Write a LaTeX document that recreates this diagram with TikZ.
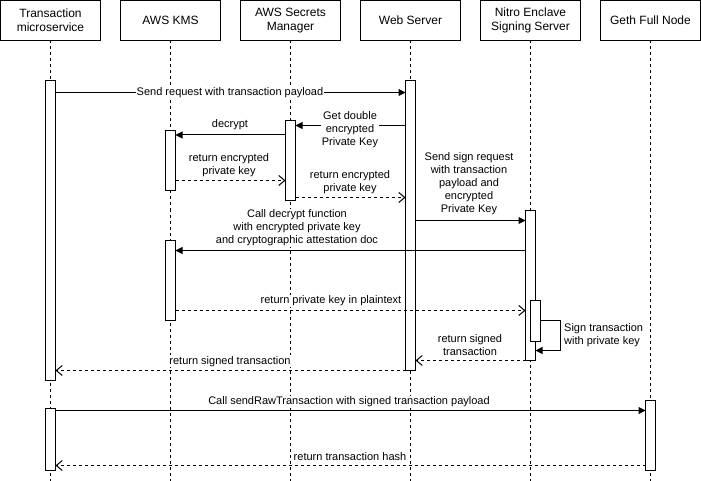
\documentclass[tikz,border=0pt]{standalone}
\usepackage{fontspec}
\setmainfont{Liberation Sans}
\usetikzlibrary{arrows.meta}
\begin{document}
\begin{tikzpicture}[x=1pt,y=-1pt,
  head/.style={draw, line width=1pt, fill=white, minimum width=100pt, minimum height=40pt, align=center, font=\fontsize{12}{14.4}\selectfont, inner sep=0pt, outer sep=0pt},
  actbar/.style={draw, line width=1pt, fill=white, minimum width=10pt, inner sep=0pt, outer sep=0pt},
  lifeline/.style={line width=1pt, dash pattern=on 3pt off 3pt},
  msg/.style={line width=1pt, -{Triangle[length=7pt,width=7pt]}},
  ret/.style={line width=1pt, dash pattern=on 3pt off 3pt, -{Straight Barb[length=6pt,width=10pt]}},
  lbl/.style={fill=white, inner sep=1pt, align=center, font=\fontsize{11}{13}\selectfont},
]
\useasboundingbox (0,0) rectangle (701,481);

% headers
\node[head] (h1) at (50.5,20.5) {Transaction\\microservice};
\node[head] (h2) at (170.5,20.5) {AWS KMS};
\node[head] (h3) at (290.5,20.5) {AWS Secrets\\Manager};
\node[head] (h4) at (410.5,20.5) {Web Server};
\node[head] (h5) at (530.5,20.5) {Nitro Enclave\\Signing Server};
\node[head] (h6) at (650.5,20.5) {Geth Full Node};

% lifelines
\foreach \h in {h1,h2,h3,h4,h5,h6}{
  \draw[lifeline] (\h.south) -- (\h.south |- 0,481);
}

% activation bars
\node[actbar, minimum height=300pt] (tm1) at (50.5,230.5) {};
\node[actbar, minimum height=62pt] (tm2) at (50.5,439.5) {};
\node[actbar, minimum height=290pt] (ws1) at (410.5,225.5) {};
\node[actbar, minimum height=80pt] (sm1) at (290.5,160.5) {};
\node[actbar, minimum height=60pt] (kms1) at (170.5,160.5) {};
\node[actbar, minimum height=80pt] (kms2) at (170.5,280.5) {};
\node[actbar, minimum height=150pt] (ne1) at (530.5,285.5) {};
\node[actbar, minimum height=41pt] (ne2) at (535.5,321) {};
\node[actbar, minimum height=70pt] (geth) at (650.5,435.5) {};

% messages
\draw[msg] (tm1.east |- 0,92.5) -- (ws1.west |- 0,92.5);
\node[lbl] (l1) at (230,92.5) {Send request with transaction payload};

\draw[msg] (ws1.west |- 0,125.5) -- (sm1.east |- 0,125.5);
\node[lbl] (l2) at (350,129.5) {Get double\\encrypted\\Private Key};

\draw[msg] (sm1.west |- 0,135) -- (kms1.east |- 0,135);
\node[lbl] (l3) at (230,125) {decrypt};

\draw[ret] (kms1.east |- 0,180.5) -- (sm1.west |- 0,180.5);
\node[lbl] (l4) at (229,165.5) {return encrypted\\private key};

\draw[ret] (sm1.east |- 0,197.5) -- (ws1.west |- 0,197.5);
\node[lbl] (l5) at (350,182) {return encrypted\\private key};

\draw[msg] (ws1.east |- 0,220.5) -- (ne1.west |- 0,220.5);
\node[lbl] (l6) at (469,183.3) {Send sign request\\with transaction\\payload and\\encrypted\\Private Key};

\draw[msg] (ne1.west |- 0,250.5) -- (kms2.east |- 0,250.5);
\node[lbl] (l7) at (297,228) {Call decrypt function\\with encrypted private key\\and cryptographic attestation doc};

\draw[ret] (kms2.east |- 0,310.5) -- (ne1.west |- 0,310.5);
\node[lbl] (l8) at (331,301) {return private key in plaintext};

\coordinate (loopA) at (560.5,320.5);
\coordinate (loopB) at (560.5,350.5);
\draw[msg] (ne2.east |- loopA) -- (loopA) -- (loopB) -- (ne1.east |- loopB);
\node[lbl, anchor=west, align=left] (l9) at (563,335.5) {Sign transaction\\with private key};

\draw[ret] (ne1.west |- 0,360.5) -- (ws1.east |- 0,360.5);
\node[lbl] (l10) at (470,345) {return signed\\transaction};

\draw[ret] (ws1.west |- 0,370.5) -- (tm1.east |- 0,370.5);
\node[lbl] (l11) at (230,361.3) {return signed transaction};

\draw[msg] (tm2.east |- 0,410.5) -- (geth.west |- 0,410.5);
\node[lbl] (l12) at (349,402) {Call sendRawTransaction with signed transaction payload};

\draw[ret] (geth.west |- 0,465.5) -- (tm2.east |- 0,465.5);
\node[lbl] (l13) at (350,456.3) {return transaction hash};
\end{tikzpicture}
\end{document}
